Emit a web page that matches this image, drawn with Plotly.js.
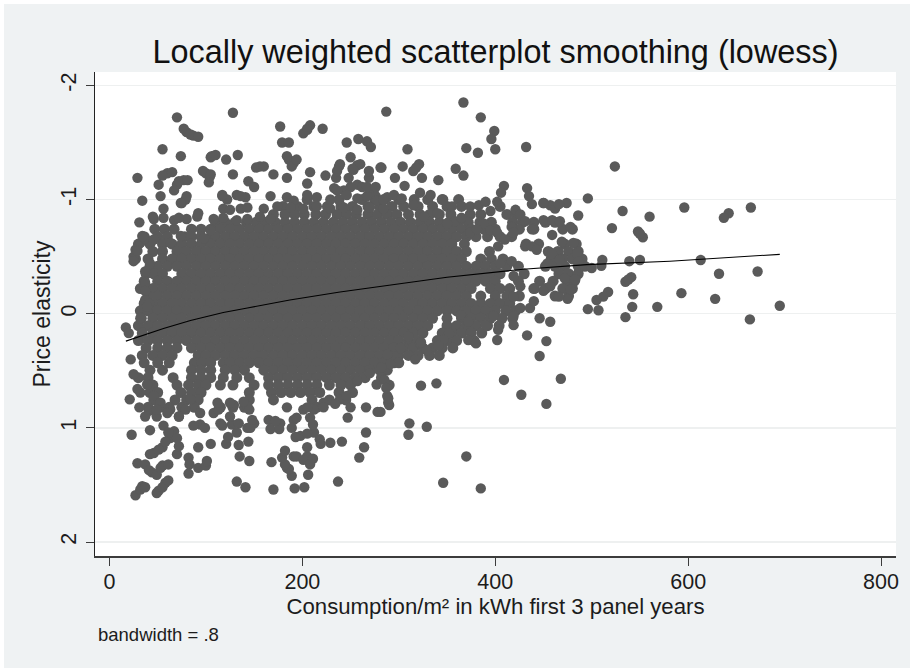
<!DOCTYPE html>
<html><head><meta charset="utf-8">
<script src="https://cdn.plot.ly/plotly-3.0.1.min.js"></script>
<style>html,body{margin:0;padding:0;background:#fff;overflow:hidden}#c{position:absolute;left:4px;top:4px;width:906px;height:664px}</style>
</head><body><div id="c"></div>
<script>
// Individually readable points (consumption, elasticity)
const looseX=[367,385,399,396,400,370,382,432,287,309,524,282,304,315,321,318,324,296,306,341,359,367,409,406,402,433,435,438,496,532,560,596,665,642,637,521,548,553,550,486,478,474,466,450,459,511,539,550,613,500,510,632,672,541,535,538,543,593,628,517,512,505,542,568,496,507,535,695,664,446,457,433,453,446,468,409,427,453,323,339,317,311,329,310,370,346,385,290,289,285,287,281,402,403,372,380,291,282,329,323,341,
70,128,77,84,92,177,201,208,205,221,179,186,246,258,267,271,55,74,105,110,121,133,184,189,194,250,29,55,65,51,97,105,103,128,152,160,170,208,224,239,236,260,253,248,269,281,72,81,67,34,53,80,74,56,31,117,144,150,184,205,236,267,276,284,136,45,72,92,34,29,25,37,37,39,
17,20,22,25,29,21,31,37,23,42,27,32,37,49,55,61,29,37,41,49,53,61,42,51,70,72,70,61,58,82,83,82,92,100,101,92,105,121,123,134,144,135,145,132,141,170,168,192,202,206,237,189,186,182,179,182,194,201,211,208,205,193,205,211,189,218,219,229,241,259,264,266,266,278,247,250,234,222,205,194,184,167,176,172,146,148,145,139,132,117,99,87,72,112,125,49,60];
const looseY=[-1.85,-1.72,-1.60,-1.53,-1.44,-1.45,-1.41,-1.46,-1.77,-1.44,-1.29,-1.28,-1.29,-1.25,-1.31,-1.28,-1.19,-1.19,-1.12,-1.17,-1.27,-1.21,-1.12,-1.06,-0.98,-1.10,-1.03,-0.96,-1.01,-0.90,-0.85,-0.93,-0.93,-0.88,-0.84,-0.75,-0.72,-0.67,-0.70,-0.86,-0.76,-0.97,-0.96,-0.97,-0.69,-0.47,-0.46,-0.47,-0.47,-0.40,-0.42,-0.35,-0.37,-0.32,-0.28,-0.30,-0.17,-0.18,-0.13,-0.19,-0.15,-0.12,-0.06,-0.06,-0.04,-0.03,0.03,-0.07,0.05,0.04,0.07,0.19,0.24,0.37,0.57,0.58,0.71,0.79,0.63,0.61,0.40,0.96,0.99,1.06,1.25,1.48,1.53,0.80,0.74,0.58,0.65,0.86,0.23,0.14,0.23,0.26,0.44,0.47,0.32,0.25,0.28,
-1.72,-1.76,-1.62,-1.57,-1.55,-1.64,-1.58,-1.65,-1.61,-1.62,-1.50,-1.50,-1.50,-1.53,-1.51,-1.46,-1.44,-1.38,-1.37,-1.39,-1.35,-1.39,-1.38,-1.29,-1.35,-1.37,-1.19,-1.21,-1.24,-1.13,-1.25,-1.22,-1.15,-1.22,-1.28,-1.29,-1.22,-1.24,-1.21,-1.31,-1.25,-1.31,-1.26,-1.19,-1.25,-1.28,-1.16,-1.17,-1.08,-0.99,-1.03,-1.03,-0.97,-0.92,-0.80,-1.04,-1.16,-1.11,-1.19,-1.14,-1.08,-1.11,-1.11,-1.00,-1.03,-0.85,-0.84,-0.88,-0.68,-0.55,-0.46,-0.37,-0.20,-0.06,
0.12,0.17,0.40,0.53,0.66,0.75,0.82,0.90,1.06,1.02,1.59,1.54,1.52,1.57,1.52,1.46,1.31,1.32,1.37,1.41,1.35,1.32,1.23,1.19,1.23,1.16,1.09,1.04,1.12,1.26,1.32,1.40,1.35,1.33,1.29,1.17,1.14,1.14,1.08,1.15,1.12,1.25,1.29,1.47,1.52,1.54,1.30,1.53,1.52,1.41,1.47,1.42,1.36,1.32,1.26,1.20,1.25,1.28,1.27,1.32,1.17,1.08,1.05,0.97,1.00,1.10,1.14,1.13,1.12,1.26,1.17,1.04,0.82,0.86,0.91,0.82,0.79,0.82,0.82,0.91,0.82,1.01,1.01,0.94,1.00,0.93,0.84,0.77,1.04,0.98,1.00,0.98,0.90,0.78,0.90,0.84,0.87];

// Clusters along the fringe of the mass
const fringeX=[80,87,205,106,186,191,257,252,238,235,233,60,70,77,79,75,100,104,156,269,257,250,243,262,274,276,
117,122,132,141,167,184,191,205,215,229,246,257,267,277,288,118,125,136,143,160,174,188,201,215,229,243,257,270,284,
46,56,67,80,91,108,118,132,143,156,167,32,37,46,63,74,98,105,25,27,42,37,37,41,32,
295,303,315,322,333,346,355,340,326,374,383,390,395,421,426,431,438,417,419,410,403,388,395,402,358,365,350,374,381,
450,457,462,450,459,467,431,438,443,459,469,481,485,486,467,454,417,405,483,472,478,475,466,457,441,450,419,426,419,426,436,440,419,419,390,398,364,372,352,346,322,310,302,288,
32,39,46,53,41,49,63,72,56,67,63,55,46,55,44,58,51,34,79,84,94,94,108,115,127,134,143,150,143,129,113,125,165,177,191,201,212,222,239,246,257,277,288,289,270,208,212,198,184,191,205];
const fringeY=[-1.59,-1.56,-1.62,-1.38,-1.35,-1.32,-1.30,-1.27,-1.29,-1.19,-1.10,-1.23,-1.13,-1.17,-1.00,-0.97,-1.23,-1.20,-1.29,-1.19,-1.13,-1.11,-1.08,-1.11,-1.08,-1.03,
-1.03,-1.00,-1.04,-1.02,-1.03,-1.02,-0.99,-1.04,-1.02,-1.00,-1.04,-1.01,-1.03,-0.99,-1.02,-0.92,-0.91,-0.92,-0.93,-0.92,-0.94,-0.93,-0.92,-0.94,-0.92,-0.93,-0.91,-0.93,-0.92,
-0.83,-0.84,-0.82,-0.83,-0.85,-0.83,-0.84,-0.82,-0.83,-0.85,-0.83,-0.62,-0.66,-0.65,-0.62,-0.68,-0.66,-0.73,-0.50,-0.56,-0.44,-0.27,-0.12,-0.09,0.04,
-1.04,-1.01,-0.95,-1.06,-1.04,-1.00,-0.94,-0.88,-0.85,-0.94,-0.95,-0.98,-0.90,-0.91,-0.87,-0.81,-0.74,-0.76,-0.71,-0.65,-0.59,-0.79,-0.73,-0.71,-0.81,-0.84,-0.79,-0.71,-0.74,
-0.97,-0.95,-0.92,-0.82,-0.82,-0.81,-0.59,-0.59,-0.56,-0.53,-0.63,-0.62,-0.53,-0.46,-0.47,-0.44,-0.46,-0.44,-0.30,-0.31,-0.21,-0.13,-0.15,-0.24,-0.22,-0.20,-0.33,-0.24,-0.15,-0.05,-0.05,-0.11,0.02,0.10,0.10,0.02,0.01,0.07,0.17,0.23,0.26,0.20,0.30,0.36,
0.69,0.62,0.72,0.78,0.85,0.90,0.84,0.90,0.98,1.03,1.09,1.17,1.22,1.33,1.39,1.48,1.55,1.51,0.84,0.75,0.87,0.97,0.87,0.96,0.97,0.96,1.00,0.96,0.81,0.80,0.84,0.78,0.93,0.96,0.93,0.84,0.84,0.78,0.75,0.72,0.59,0.62,0.72,0.78,0.52,0.91,1.04,1.07,1.35,1.25,1.25];

// The overlapping mass: elasticity level of each band and the consumption values read along it
const bandY=[-1.00,-0.94,-0.87,-0.80,-0.74,-0.675,-0.61,-0.545,-0.48,-0.415,-0.35,-0.285,-0.22,-0.155,-0.09,-0.025,0.04,0.105,0.17,0.235,0.30,0.365,0.43,0.495,0.56,0.625,0.69,0.755,0.82];
const bandX=[
[205,238,262,275,285,300,316,330,345,362],
[180,195,212,226,240,252,268,280,293,305,320,335,350,365,405],
[170,182,192,202,214,224,236,246,256,268,278,288,298,310,322,332,342,354,374,385,412,422],
[110,120,130,142,152,162,172,182,192,202,212,222,232,242,252,262,272,282,292,302,312,322,332,342,352,362,372,384,396,418,428,440,452,462],
[47,57,67,85,95,105,115,125,135,145,155,165,175,185,195,205,215,225,235,245,255,265,275,285,295,305,315,325,335,345,355,365,375,388,400,425,440,470,480],
[36,50,60,78,85,95,105,110,120,130,140,150,160,170,180,190,200,210,220,230,240,250,260,270,280,290,300,310,320,330,340,350,360,370,380,392,405,417],
[30,42,55,65,75,85,95,105,115,125,135,145,155,165,175,185,195,205,215,225,235,245,255,265,275,285,295,305,315,325,335,345,355,368,432,445,472,484],
[45,55,70,80,90,100,110,120,130,140,150,160,170,180,190,200,210,220,230,240,250,260,270,280,290,300,310,320,330,340,350,360,370,394,455,465,476,486],
[27,40,55,65,75,85,95,105,115,125,135,145,155,165,175,185,195,205,215,225,235,245,255,265,275,285,295,305,315,325,335,345,355,365,385,396,408,458,470,480,490],
[42,50,60,70,80,90,100,110,120,130,140,150,160,170,180,190,200,210,220,230,240,250,260,270,280,290,300,310,320,330,340,350,360,370,380,390,400,412,424,452,462,472,486,493],
[38,46,55,75,85,95,105,115,125,135,145,155,165,175,185,195,205,215,225,235,245,255,265,275,285,295,305,315,325,335,345,355,365,375,385,395,405,430,466,476,486],
[36,50,60,70,80,90,100,110,120,130,140,150,160,170,180,190,200,210,220,230,240,250,260,270,280,290,300,310,320,330,340,350,360,370,380,390,400,424,446,460,475,482],
[32,45,55,65,75,85,95,105,115,125,135,145,155,165,175,185,195,205,215,225,235,245,255,265,275,285,295,305,315,325,335,345,355,365,375,395,405,415,440,452,470,480],
[40,50,60,70,80,90,100,110,120,130,140,150,160,170,180,190,200,210,220,230,240,250,260,270,280,290,300,310,320,330,340,350,360,370,385,400,412,425,462,476],
[36,45,55,65,75,85,95,105,115,125,135,145,155,165,175,185,195,205,215,225,235,245,255,265,275,285,295,305,315,325,335,345,355,365,375,385,395,405,415],
[32,40,50,60,70,80,90,100,110,120,130,140,150,160,170,180,190,200,210,220,230,240,250,260,270,280,290,300,310,320,330,340,350,360,370,380,390,400,411,421],
[33,45,55,65,75,85,95,105,115,125,135,145,155,165,175,185,195,205,215,225,235,245,255,265,275,285,295,305,315,325,335,350,365,375,385,395,407,418],
[30,40,50,60,70,80,90,100,110,120,130,140,150,160,170,180,190,200,210,220,230,240,250,260,270,280,290,300,310,320,330,350,360,370,380,392,404],
[34,45,55,65,75,85,95,105,115,125,135,145,155,165,175,185,195,205,215,225,235,245,255,265,275,285,295,305,315,325,345,355,365,375,386],
[30,40,50,60,70,80,90,100,110,120,130,140,150,160,170,180,190,200,210,220,230,240,250,260,270,280,290,300,310,320,340,350,360,378],
[38,50,60,70,85,95,105,115,125,135,145,155,165,175,185,195,205,215,225,235,245,255,265,275,285,295,305,315,325,335,345,356],
[34,45,55,65,92,100,110,120,130,140,150,160,170,180,190,200,210,220,230,240,250,260,270,280,290,300,310,320,332,342],
[36,50,62,88,96,105,118,125,135,145,155,165,175,185,195,205,215,225,235,245,255,265,275,285,295,300],
[42,55,85,95,105,120,130,140,160,170,180,190,200,210,220,230,240,250,260,270,280,288],
[30,40,66,85,95,105,118,132,145,165,175,185,195,205,215,225,235,245,255,265,282],
[45,70,82,92,100,115,128,150,165,175,185,195,205,215,228,240,250,290],
[42,50,74,85,95,145,168,178,188,198,208,218,238,252],
[46,68,80,92,145,170,210,228,245],
[40,52,62,75,88,115,128,140,215]];
const smoothX=[17,56,84,118,143,187,239,291,350,429,495,581,654,695];
const smoothY=[0.24,0.13,0.06,-0.01,-0.05,-0.12,-0.19,-0.25,-0.32,-0.39,-0.43,-0.46,-0.495,-0.52];

const massX=[],massY=[];
bandX.forEach((r,i)=>r.forEach(v=>{massX.push(v);massY.push(bandY[i]);}));
const ptColor='#5a5a5a', font='"Liberation Sans",Arial,sans-serif', ink='#1c1c1c';
const mk={color:ptColor,size:10.4,symbol:'circle',line:{width:0}};
Plotly.newPlot('c',[
 {x:massX,y:massY,mode:'markers',type:'scatter',marker:{color:ptColor,size:11,symbol:'circle',line:{width:0}},hoverinfo:'skip'},
 {x:fringeX,y:fringeY,mode:'markers',type:'scatter',marker:mk,hoverinfo:'skip'},
 {x:looseX,y:looseY,mode:'markers',type:'scatter',marker:mk,hoverinfo:'skip'},
 {x:smoothX,y:smoothY,mode:'lines',type:'scatter',line:{color:'#000',width:1.1},hoverinfo:'skip'}
],{
 width:906,height:664,showlegend:false,
 paper_bgcolor:'#eff2f3',plot_bgcolor:'#fff',
 margin:{l:90.5,r:14,t:68,b:112,pad:0},
 font:{family:font,color:ink},
 title:{text:'Locally weighted scatterplot smoothing (lowess)',font:{size:32.4,color:'#111',family:font},x:0.5,xref:'paper',xanchor:'center',y:0.928,yref:'container',yanchor:'middle'},
 xaxis:{range:[-15,815.5],tickmode:'array',tickvals:[0,200,400,600,800],ticktext:['0','200','400','600','800'],showgrid:false,zeroline:false,showline:true,linecolor:'#3c3c3c',linewidth:1.5,ticks:'outside',ticklen:8,tickcolor:'#3c3c3c',tickwidth:1,ticklabelstandoff:-2,tickfont:{size:21.5,color:ink},
   title:{text:'Consumption/m² in kWh first 3 panel years',font:{size:22.2,color:ink},standoff:0}},
 yaxis:{range:[2.122,-2.117],tickmode:'array',tickvals:[-2,-1,0,1,2],ticktext:['-2','-1','0','1','2'],tickangle:-90,showgrid:true,gridcolor:'#eef0f0',gridwidth:1.5,zeroline:false,showline:true,linecolor:'#222',linewidth:1.5,ticks:'outside',ticklen:8,tickcolor:'#3c3c3c',tickwidth:1,ticklabelstandoff:1,tickfont:{size:21.5,color:ink},
   title:{text:'Price elasticity',font:{size:23,color:ink},standoff:0}},
 annotations:[{text:'bandwidth = .8',xref:'paper',yref:'paper',x:0.0015,y:-0.163,xanchor:'left',yanchor:'middle',showarrow:false,font:{size:18.5,color:ink,family:font}}]
},{displayModeBar:false,staticPlot:true});
</script></body></html>
